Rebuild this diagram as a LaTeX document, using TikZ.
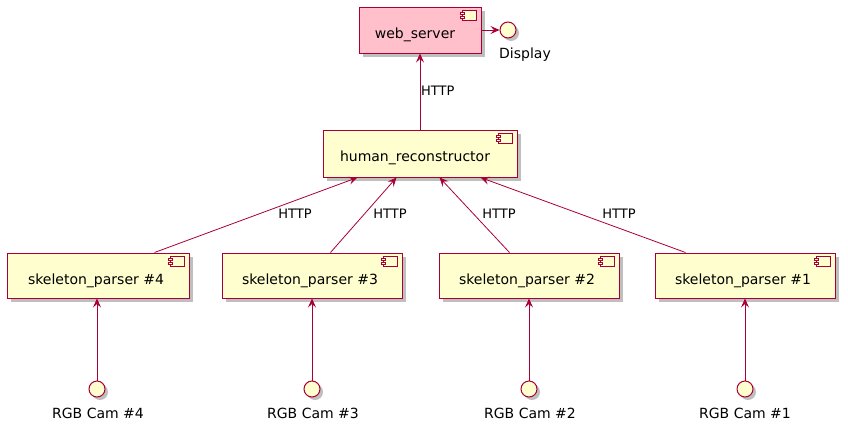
\documentclass[tikz,border=0pt]{standalone}
\usepackage{fontspec}
\setmainfont{DejaVu Sans}
\usetikzlibrary{arrows.meta,calc}
\definecolor{pborder}{HTML}{A80036}
\definecolor{pfill}{HTML}{FEFECE}
\definecolor{ppink}{HTML}{FFC0CB}
\tikzset{
  comp/.style={draw=pborder, line width=1pt, fill=pfill, rectangle, inner sep=0pt},
  shad/.style={fill=black, opacity=0.25, draw=none, rectangle, inner sep=0pt},
  iface/.style={draw=pborder, line width=1pt, fill=pfill, circle, minimum size=16pt, inner sep=0pt},
  conn/.style={draw=pborder, line width=0.8pt, -{Stealth[length=9pt,width=8pt,inset=3.5pt]}},
  ctext/.style={font=\fontsize{14pt}{16pt}\selectfont, inner sep=0pt},
  ltext/.style={font=\fontsize{13pt}{15pt}\selectfont, inner sep=0pt},
}
\newcommand{\compicon}[1]{%
  \draw[pborder, line width=0.8pt, fill=pfill] ($(#1.north east)+(-19,4)$) rectangle ++(14,10);
  \draw[pborder, line width=0.8pt, fill=pfill] ($(#1.north east)+(-21,6)$) rectangle ++(4,2.2);
  \draw[pborder, line width=0.8pt, fill=pfill] ($(#1.north east)+(-21,10)$) rectangle ++(4,2.2);
}
\newcommand{\mycomp}[6]{% name, cx, cy, w, h, fill
  \node[shad, minimum width=#4pt, minimum height=#5pt] (#1s) at (#2+4,#3+4) {};
  \node[comp, fill=#6, minimum width=#4pt, minimum height=#5pt] (#1) at (#2,#3) {};
  \compicon{#1}
}
\newcommand{\myiface}[3]{% name, cx, cy
  \node[iface, fill=black, draw=none, opacity=0.25] (#1s) at (#2+3,#3+3) {};
  \node[iface] (#1) at (#2,#3) {};
}
\begin{document}
\begin{tikzpicture}[x=1pt,y=-1pt]
\useasboundingbox (0,0) rectangle (848,426);
% components
\mycomp{ws}{420}{30}{122}{46}{ppink}
\mycomp{hr}{420}{153.5}{194}{47}{pfill}
\mycomp{spd}{98}{275.5}{182}{45}{pfill}
\mycomp{spc}{312}{275.5}{180}{45}{pfill}
\mycomp{spb}{529}{275.5}{180}{45}{pfill}
\mycomp{spa}{745}{275.5}{180}{45}{pfill}
\node[ctext] (wst) at (415,35) {web\_server};
\node[ctext] (hrt) at (415,158) {human\_reconstructor};
\node[ctext] (spdt) at (96,281) {skeleton\_parser \#4};
\node[ctext] (spct) at (310,281) {skeleton\_parser \#3};
\node[ctext] (spbt) at (527,281) {skeleton\_parser \#2};
\node[ctext] (spat) at (743,281) {skeleton\_parser \#1};
% interfaces
\myiface{disp}{508}{30}
\myiface{camd}{97}{389}
\myiface{camc}{312}{389}
\myiface{camb}{529}{389}
\myiface{cama}{745}{389}
\node[ctext] (dispt) at (525,55) {Display};
\node[ctext] (camdt) at (98,413) {RGB Cam \#4};
\node[ctext] (camct) at (313,413) {RGB Cam \#3};
\node[ctext] (cambt) at (530,413) {RGB Cam \#2};
\node[ctext] (camat) at (745,413) {RGB Cam \#1};
% connectors
\draw[conn] (ws.east) -- (disp.west);
\draw[conn] (hr.north) -- (ws.south);
\node[ltext, anchor=west] (h0) at (421,91) {HTTP};
\draw[conn] ([xshift=148]spd.north west) -- ([xshift=35]hr.south west);
\draw[conn] ([xshift=109]spc.north west) -- ([xshift=74]hr.south west);
\draw[conn] ([xshift=71]spb.north west) -- ([xshift=117]hr.south west);
\draw[conn] ([xshift=31]spa.north west) -- ([xshift=158]hr.south west);
\node[ltext] (h4) at (295,214) {HTTP};
\node[ltext] (h3) at (390,214) {HTTP};
\node[ltext] (h2) at (499,214) {HTTP};
\node[ltext] (h1) at (619,214) {HTTP};
\draw[conn] (camd.north) -- (spd.south -| camd.north);
\draw[conn] (camc.north) -- (spc.south -| camc.north);
\draw[conn] (camb.north) -- (spb.south -| camb.north);
\draw[conn] (cama.north) -- (spa.south -| cama.north);
\end{tikzpicture}
\end{document}
